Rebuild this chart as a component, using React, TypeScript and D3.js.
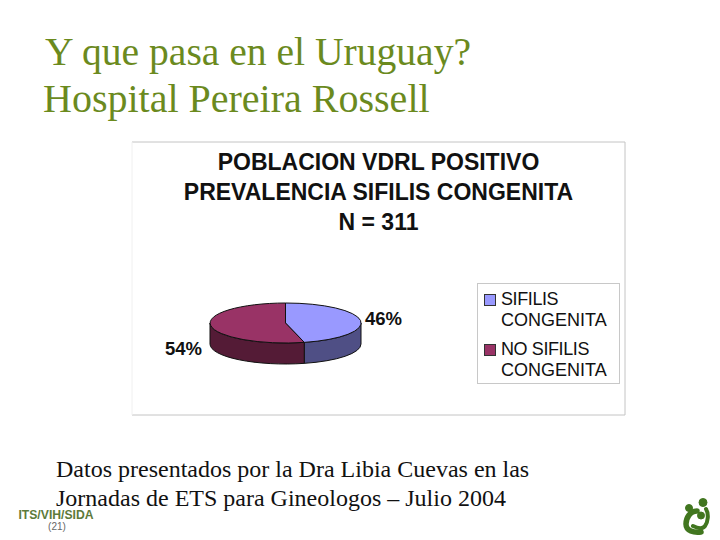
import React from "react";
import * as d3 from "d3";

const categories = ["SIFILIS CONGENITA", "NO SIFILIS CONGENITA"];
const values = [46, 54];
const legendLines = [["SIFILIS", "CONGENITA"], ["NO SIFILIS", "CONGENITA"]];
const topColors = ["#9999ff", "#993366"];
const sideColors = ["#4f4f85", "#541b36"];
const slideTitle = ["Y que pasa en el Uruguay?", "Hospital Pereira Rossell"];
const chartTitle = ["POBLACION VDRL POSITIVO", "PREVALENCIA SIFILIS CONGENITA", "N = 311"];
const footnote = ["Datos presentados por la Dra Libia Cuevas en las", "Jornadas de ETS para Gineologos – Julio 2004"];

const rx = 75.5;
const ry = 20;
const depth = 21;
const cx = 285.5;
const cy = 323;
const sans = "'Liberation Sans', Arial, sans-serif";
const serif = "'Liberation Serif', 'Times New Roman', serif";

// angle is clockwise from 12 o'clock, as d3.pie gives it
const px = (a: number) => cx + rx * Math.sin(a);
const py = (a: number) => cy - ry * Math.cos(a);

const App = () => {
  const slices = d3.pie<number>().sort(null)(values);
  const topArc = d3.arc<any>().innerRadius(0).outerRadius(1);

  // front wall only shows between 3 o'clock and 9 o'clock
  const sidePath = (s: any) => {
    const a0 = Math.max(s.startAngle, Math.PI / 2);
    const a1 = Math.min(s.endAngle, (3 * Math.PI) / 2);
    if (a1 <= a0) return "";
    return `M${px(a0)},${py(a0)} A${rx},${ry} 0 0 1 ${px(a1)},${py(a1)} L${px(a1)},${py(a1) + depth} A${rx},${ry} 0 0 0 ${px(a0)},${py(a0) + depth} Z`;
  };

  return (
    <svg width={720} height={540} style={{ position: "absolute", left: 0, top: 0, background: "#fff" }}>
      <g fontFamily={serif} fill="#6b8a1e">
        <text x={45} y={65} fontSize={39.6}>{slideTitle[0]}</text>
        <text x={43} y={112} fontSize={40}>{slideTitle[1]}</text>
      </g>

      <path d="M132,142 H625 V415 H132" fill="#fff" stroke="#c4c4c4" strokeWidth={1} />
      <path d="M132,142 V415" stroke="#f0f0f0" />

      <g fontFamily={sans} fontSize={23} fontWeight="bold" textAnchor="middle" fill="#111">
        {chartTitle.map((t, i) => <text key={t} x={378.5} y={170 + i * 30}>{t}</text>)}
      </g>

      {slices.map((s, i) => (
        <path key={"side" + i} d={sidePath(s)} fill={sideColors[i]} stroke="#111" strokeWidth={1} />
      ))}
      {slices.map((s, i) => (
        <path key={"top" + i} d={topArc(s) as string} transform={`translate(${cx},${cy}) scale(${rx},${ry})`}
          fill={topColors[i]} stroke="#111" strokeWidth={1} vectorEffect="non-scaling-stroke" />
      ))}

      <g fontFamily={sans} fontSize={18.5} fontWeight="bold" fill="#111">
        <text x={365} y={325}>{values[0]}%</text>
        <text x={165} y={355}>{values[1]}%</text>
      </g>

      <rect x={477.5} y={283.5} width={142} height={100} fill="#fff" stroke="#c8c8c8" />
      {categories.map((c, i) => (
        <g key={c}>
          <rect x={484.5} y={294.5 + i * 50} width={11} height={11} fill={topColors[i]} stroke="#333" />
          <g fontFamily={sans} fontSize={18} fill="#111">
            <text x={501} y={304.5 + i * 50} letterSpacing={-0.4}>{legendLines[i][0]}</text>
            <text x={501} y={326 + i * 50}>{legendLines[i][1]}</text>
          </g>
        </g>
      ))}

      <g fontFamily={serif} fontSize={24} fill="#111">
        <text x={56} y={477}>{footnote[0]}</text>
        <text x={56} y={506}>{footnote[1]}</text>
      </g>

      <text x={56} y={519} fontFamily={sans} fontSize={12.2} fontWeight="bold" fill="#5d7a3a" textAnchor="middle">ITS/VIH/SIDA</text>
      <text x={57} y={530} fontFamily={sans} fontSize={10} fill="#666" textAnchor="middle">(21)</text>

      <g fill="#41761f" stroke="#41761f">
        <circle cx={703} cy={502.5} r={4} />
        <circle cx={689} cy={508} r={3.5} />
        <circle cx={701} cy={515.5} r={3.5} />
        <path d="M697,511 C690,511 686,518 686,524 C686,531 694,533 701,532" fill="none" strokeWidth={5.5} strokeLinecap="round" />
        <path d="M706,509 C709,514 708,522 705,526 C702,530 697,528 693,526" fill="none" strokeWidth={4} strokeLinecap="round" />
      </g>
    </svg>
  );
};

export default App;
